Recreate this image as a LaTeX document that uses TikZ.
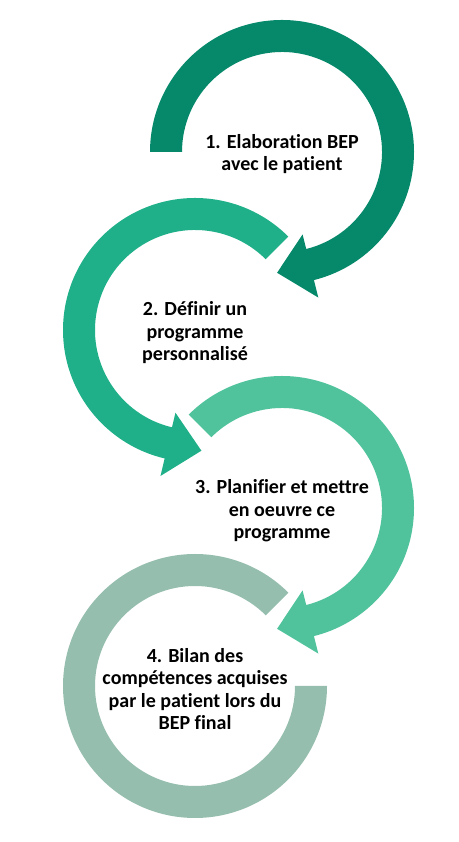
\documentclass[tikz,border=0pt]{standalone}
\usepackage{fontspec}
\setmainfont{Carlito}[Ligatures=NoCommon]
\definecolor{cA}{RGB}{5,137,106}
\definecolor{cB}{RGB}{31,176,137}
\definecolor{cC}{RGB}{80,195,157}
\definecolor{cD}{RGB}{150,190,174}
\begin{document}
\begin{tikzpicture}[x=1pt,y=1pt,
  lbl/.style={align=center,font=\fontsize{20}{22.5}\selectfont\bfseries,inner sep=0pt,text=black}]
\useasboundingbox (0,0) rectangle (458,842);
\coordinate (c1) at (282,690);
\coordinate (c2) at (195,512);
\coordinate (c3) at (282,334);
\coordinate (c4) at (195,156);
% arc 1: clockwise from 180 to -76
\begin{scope}[shift={(c1)}]
\fill[cA] (180:132) arc[start angle=180,end angle=-76,radius=132] -- (-76:150)
  -- ([shift={(-76:116)}]-166:34) -- (-76:85) -- (-76:100)
  arc[start angle=-76,end angle=180,radius=100] -- cycle;
\end{scope}
% arc 2: counterclockwise from 45 to 256.7
\begin{scope}[shift={(c2)}]
\fill[cB] (45:132) arc[start angle=45,end angle=256.7,radius=132] -- (256.7:150)
  -- ([shift={(256.7:116)}]346.7:34) -- (256.7:85) -- (256.7:100)
  arc[start angle=256.7,end angle=45,radius=100] -- cycle;
\end{scope}
% arc 3: clockwise from 135 to -76
\begin{scope}[shift={(c3)}]
\fill[cC] (135:132) arc[start angle=135,end angle=-76,radius=132] -- (-76:150)
  -- ([shift={(-76:116)}]-166:34) -- (-76:85) -- (-76:100)
  arc[start angle=-76,end angle=135,radius=100] -- cycle;
\end{scope}
% arc 4: counterclockwise from 45 to 360
\begin{scope}[shift={(c4)}]
\fill[cD] (45:132) arc[start angle=45,end angle=360,radius=132] -- (0:100)
  arc[start angle=360,end angle=45,radius=100] -- cycle;
\end{scope}
\node[lbl] (t1) at ([yshift=-2]c1) {1. Elaboration BEP\\avec le patient};
\node[lbl] (t2) at ([yshift=-3]c2) {2. Définir un\\programme\\personnalisé};
\node[lbl] (t3) at ([yshift=-3]c3) {3. Planifier et mettre\\en oeuvre ce\\programme};
\node[lbl] (t4) at ([yshift=-3]c4) {4. Bilan des\\compétences acquises\\par le patient lors du\\BEP final};
\end{tikzpicture}
\end{document}
